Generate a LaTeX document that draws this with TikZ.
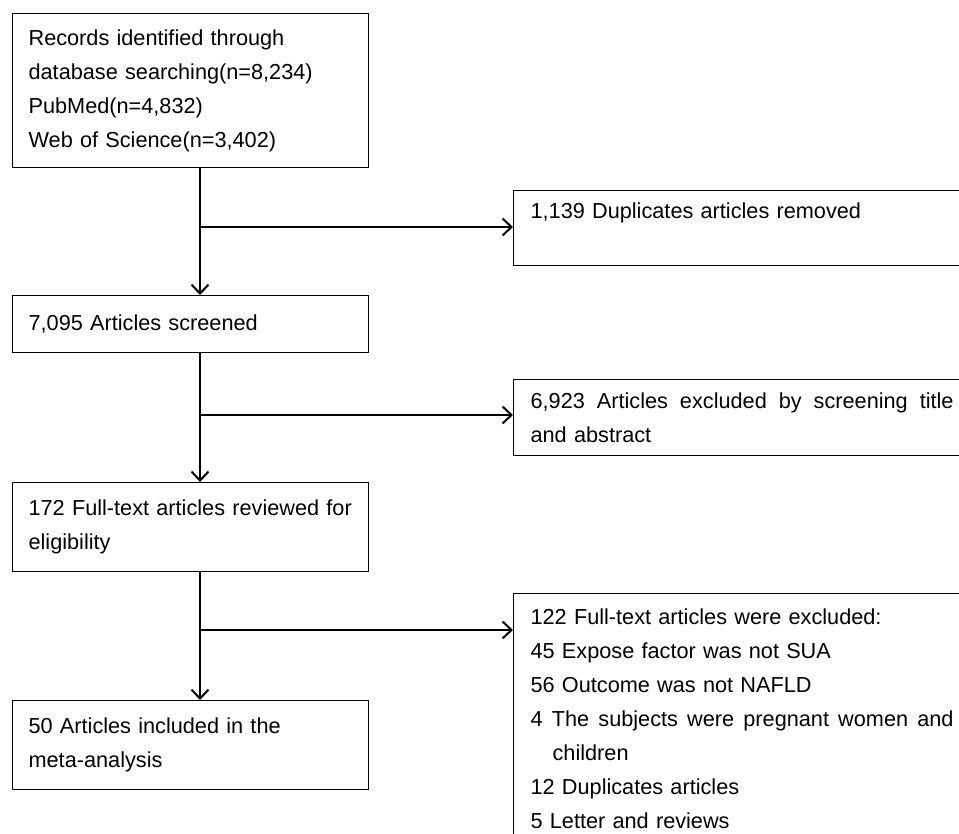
\documentclass[tikz,border=0pt]{standalone}
\usepackage{fontspec}
\setmainfont{Liberation Sans}
\usetikzlibrary{arrows.meta}
\newcommand{\fullline}[1]{\makebox[423pt][s]{\spaceskip=0.278em plus 1fil\relax #1}}

\begin{document}
\begin{tikzpicture}[x=1pt, y=-1pt,
    leftbox/.style={draw, line width=1.2pt, anchor=north west, text width=324pt,
                    inner xsep=16pt, inner ysep=0pt, align=left,
                    font=\fontsize{21.7}{34}\selectfont},
    rightbox/.style={leftbox, text width=423pt, inner xsep=17pt},
    flow/.style={line width=2pt, -{Straight Barb[length=9pt, width=17pt]}}]
    % Frame and crop of the page
    \useasboundingbox (0,0) rectangle (959,834);
    \clip (0,0) rectangle (959,834);
    % Main column
    \node[leftbox, minimum height=154pt] (records)  at (12,13)  {Records identified through\\database searching(n=8,234)\\PubMed(n=4,832)\\Web of Science(n=3,402)};
    \node[leftbox, minimum height=57pt]  (screened) at (12,295) {7,095 Articles screened};
    \node[leftbox, minimum height=89pt]  (fulltext) at (12,482) {172 Full-text articles reviewed for\\eligibility};
    \node[leftbox, minimum height=89pt]  (included) at (12,700) {50 Articles included in the\\meta-analysis};
    % Exclusions
    \node[rightbox, minimum height=75pt]  (duplicates) at (513,190) {1,139 Duplicates articles removed\\\mbox{}};
    \node[rightbox, minimum height=76pt]  (excluded)   at (513,379) {\fullline{6,923 Articles excluded by screening title}\\and abstract};
    \node[rightbox, minimum height=250pt] (reasons)    at (513,593) {122 Full-text articles were excluded:\\45 Expose factor was not SUA\\56 Outcome was not NAFLD\\\fullline{4 The subjects were pregnant women and}\\\hspace*{22pt}children\\12 Duplicates articles\\5 Letter and reviews};
    % Branch points
    \coordinate (split1) at (200,227);
    \coordinate (split2) at (200,415);
    \coordinate (split3) at (200,630);
    % Connectors
    \draw[flow] (records.south -| split1)  -- (screened.north -| split1);
    \draw[flow] (split1) -- (duplicates.west |- split1);
    \draw[flow] (screened.south -| split2) -- (fulltext.north -| split2);
    \draw[flow] (split2) -- (excluded.west |- split2);
    \draw[flow] (fulltext.south -| split3) -- (included.north -| split3);
    \draw[flow] (split3) -- (reasons.west |- split3);
\end{tikzpicture}
\end{document}
